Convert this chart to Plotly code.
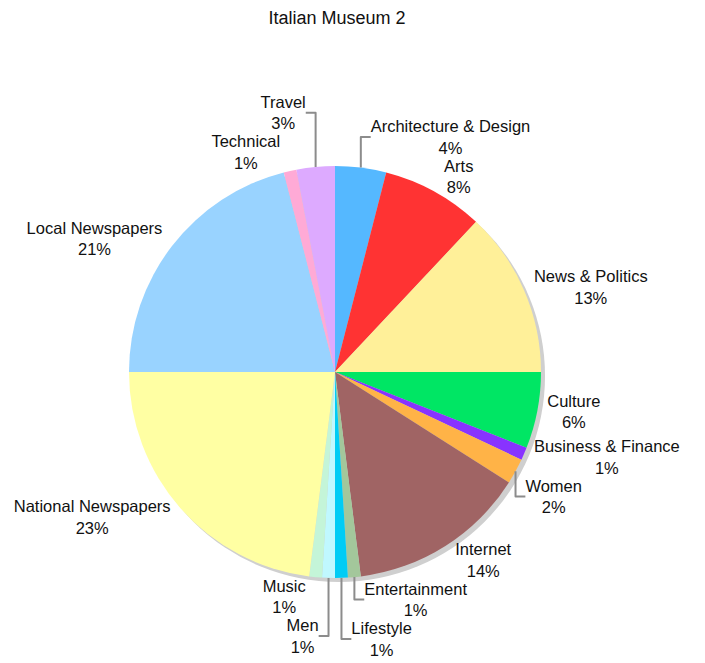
import plotly.graph_objects as go

# Share of items by category, clockwise from 12 o'clock
categories = [
    "Architecture & Design", "Arts", "News & Politics", "Culture",
    "Business & Finance", "Women", "Internet", "Entertainment",
    "Lifestyle", "Men", "Music", "National Newspapers",
    "Local Newspapers", "Technical", "Travel",
]
shares = [4, 8, 13, 6, 1, 2, 14, 1, 1, 1, 1, 23, 21, 1, 3]
slice_colors = [
    "#55b8ff", "#ff3333", "#fff099", "#00e664",
    "#8833ff", "#ffb347", "#a06464", "#a3c79b",
    "#00ccf5", "#c0f8ff", "#c4f5d8", "#ffffa3",
    "#99d3ff", "#ffaad6", "#ddaaff",
]

FONT = "Liberation Sans, Arial, Helvetica, sans-serif"

W, H = 705, 663
L, R, T, B = 128, 159, 166, 79
pw, ph = W - L - R, H - T - B
dx, dy = 4 / pw, 4 / ph

fig = go.Figure()

# soft drop shadow behind the pie
fig.add_trace(go.Pie(
    values=[1], labels=[""], marker=dict(colors=["#cfcfcf"]),
    domain=dict(x=[dx, 1], y=[0, 1 - dy]),
    textinfo="none", hoverinfo="skip", showlegend=False, sort=False,
))

# label text stays near-black; the leader lines take the (grey) textfont colour
fig.add_trace(go.Pie(
    labels=categories, values=shares,
    marker=dict(colors=slice_colors, line=dict(width=0)),
    sort=False, direction="clockwise", rotation=0,
    textposition="outside",
    texttemplate="<span style='color:#111111'>%{label}<br>%{percent:.0%}</span>",
    textfont=dict(family=FONT, size=16.5, color="#8c8c8c"),
    domain=dict(x=[0, 1 - dx], y=[dy, 1]),
    showlegend=False,
))

fig.update_layout(
    width=W, height=H,
    margin=dict(l=L, r=R, t=T, b=B),
    paper_bgcolor="white",
    title=dict(text="Italian Museum 2", x=337 / W, xanchor="center",
               y=1 - 18 / H, yanchor="middle",
               font=dict(family=FONT, size=18, color="#111111")),
)

fig.write_html("out.html")
